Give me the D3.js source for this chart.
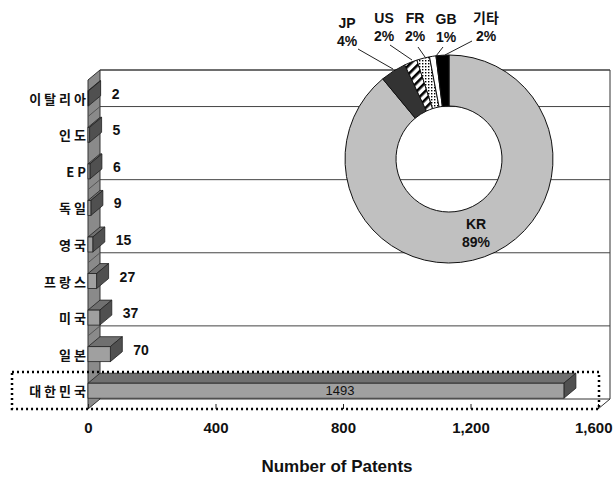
<!DOCTYPE html>
<html>
<head>
<meta charset="utf-8">
<script src="https://cdn.jsdelivr.net/npm/d3@7"></script>
<style>
  html, body { margin: 0; padding: 0; background: #fff; }
  svg { display: block; }
  .cat { font-family: "Noto Sans CJK KR", "Liberation Sans", sans-serif; font-weight: 700; font-size: 13px; letter-spacing: 3px; fill: #111; }
  .num { font-family: "Liberation Sans", Arial, sans-serif; font-weight: 700; font-size: 14px; fill: #111; }
  .tick-label { font-family: "Liberation Sans", Arial, sans-serif; font-weight: 700; font-size: 15px; fill: #111; }
  .title { font-family: "Liberation Sans", Arial, sans-serif; font-weight: 700; font-size: 17px; fill: #111; }
  .pie-label { font-family: "Liberation Sans", "Noto Sans CJK KR", sans-serif; font-weight: 700; font-size: 14px; fill: #111; }
</style>
</head>
<body>
<svg id="chart" width="613" height="478"></svg>
<script>
// Patent counts by filing office
const categories = ["이탈리아", "인도", "EP", "독일", "영국", "프랑스", "미국", "일본", "대한민국"];
const patentCounts = [2, 5, 6, 9, 15, 27, 37, 70, 1493];
const xTicks = [0, 400, 800, 1200, 1600];
// categories whose upper boundary carries a back-wall gridline
const gridCategories = ["이탈리아", "인도", "독일", "프랑스", "일본"];

// Share of applications by country (donut)
const shareLabels = ["KR", "JP", "US", "FR", "GB", "기타"];
const sharePercents = [89, 4, 2, 2, 1, 2];

const svg = d3.select("#chart");

// pseudo-3D depth offset of the plot box
const DX = 12, DY = -10;

const x = d3.scaleLinear().domain([0, 1600]).range([88, 598]);
const y = d3.scaleBand().domain(categories).range([80, 409]).padding(0);
const barH = y.bandwidth() * 0.41;

// patterns for donut slices
const defs = svg.append("defs");
const stripes = defs.append("pattern")
  .attr("id", "stripes").attr("patternUnits", "userSpaceOnUse")
  .attr("width", 6).attr("height", 6)
  .attr("patternTransform", "rotate(45)");
stripes.append("rect").attr("width", 6).attr("height", 6).attr("fill", "#fff");
stripes.append("rect").attr("width", 2.6).attr("height", 6).attr("fill", "#000");

const dots = defs.append("pattern")
  .attr("id", "dots").attr("patternUnits", "userSpaceOnUse")
  .attr("width", 3).attr("height", 3);
dots.append("rect").attr("width", 3).attr("height", 3).attr("fill", "#fff");
dots.append("rect").attr("width", 1.4).attr("height", 1.4).attr("fill", "#000");

const x0 = x(0), x1 = x(1600), yTop = y.range()[0], yBot = y.range()[1];

// back wall
svg.append("path")
  .attr("d", `M${x0 + DX},${yTop + DY}H${x1 + DX}V${yBot + DY}`)
  .attr("fill", "none").attr("stroke", "#333").attr("stroke-width", 1);

// floor edges
svg.append("line")
  .attr("x1", x1 + DX).attr("y1", yBot + DY).attr("x2", x1).attr("y2", yBot)
  .attr("stroke", "#333");
svg.append("line")
  .attr("x1", x0 + DX).attr("y1", yBot + DY).attr("x2", x1 + DX).attr("y2", yBot + DY)
  .attr("stroke", "#333").attr("stroke-width", 1);

// gridlines on the back wall
svg.append("g").selectAll("line").data(gridCategories).join("line")
  .attr("x1", x0 + DX).attr("x2", x1 + DX)
  .attr("y1", d => y(d) + DY).attr("y2", d => y(d) + DY)
  .attr("stroke", "#444").attr("stroke-width", 1);

// left side wall
svg.append("path")
  .attr("d", `M${x0},${yTop}L${x0 + DX},${yTop + DY}V${yBot + DY}L${x0},${yBot}Z`)
  .attr("fill", "#8a8a8a").attr("stroke", "#333").attr("stroke-width", 1);
svg.append("g").selectAll("line").data(gridCategories.slice(1)).join("line")
  .attr("x1", x0 + DX).attr("y1", d => y(d) + DY)
  .attr("x2", x0).attr("y2", d => y(d))
  .attr("stroke", "#555").attr("stroke-width", 1);

// donut of country shares (behind the bars, over the wall)
const pie = d3.pie().sort(null).value(d => d)(sharePercents);
const cx = 449, cy = 159, rOut = 104, rIn = 53;
const arc = d3.arc().innerRadius(rIn).outerRadius(rOut);
const sliceFill = ["#c0c0c0", "#333333", "url(#stripes)", "url(#dots)", "#ffffff", "#000000"];
const donut = svg.append("g").attr("transform", `translate(${cx},${cy})`);
donut.selectAll("path").data(pie).join("path")
  .attr("d", arc)
  .attr("fill", (d, i) => sliceFill[i])
  .attr("stroke", "#111").attr("stroke-width", 1);

// bars
const bars = svg.append("g");
categories.forEach((c, i) => {
  const v = patentCounts[i];
  const yc = y(c) + y.bandwidth() / 2;
  const t = yc - barH / 2, b = yc + barH / 2;
  const xs = x(0), xe = x(v);
  const g = bars.append("g");
  // top face
  g.append("path")
    .attr("d", `M${xs},${t}L${xs + DX},${t + DY}L${xe + DX},${t + DY}L${xe},${t}Z`)
    .attr("fill", "#707070").attr("stroke", "#222").attr("stroke-width", 0.8);
  // end face
  g.append("path")
    .attr("d", `M${xe},${t}L${xe + DX},${t + DY}L${xe + DX},${b + DY}L${xe},${b}Z`)
    .attr("fill", "#505050").attr("stroke", "#222").attr("stroke-width", 0.8);
  // front face
  g.append("rect")
    .attr("x", xs).attr("y", t).attr("width", Math.max(0, xe - xs)).attr("height", barH)
    .attr("fill", "#a0a0a0").attr("stroke", "#222").attr("stroke-width", 0.8);
});

// value labels
const labelG = svg.append("g");
categories.forEach((c, i) => {
  const v = patentCounts[i];
  const ym = y(c) + y.bandwidth() / 2 + DY / 2 + 0.5;
  if (v > 1000) {
    labelG.append("text").attr("class", "num")
      .attr("x", (x(0) + x(v)) / 2 + 14).attr("y", y(c) + y.bandwidth() / 2)
      .attr("dominant-baseline", "central").attr("text-anchor", "middle")
      .style("font-weight", 400).style("font-size", "13px")
      .text(v);
  } else {
    labelG.append("text").attr("class", "num")
      .attr("x", x(v) + DX + 11).attr("y", ym)
      .attr("dominant-baseline", "central")
      .text(v);
  }
});

// category labels
svg.append("g").selectAll("text").data(categories).join("text")
  .attr("class", "cat")
  .attr("x", 89).attr("y", d => y(d) + y.bandwidth() / 2)
  .attr("text-anchor", "end").attr("dominant-baseline", "central")
  .text(d => d);

// x axis: inward ticks on the front floor edge
const axis = d3.axisBottom(x).tickValues(xTicks).tickFormat(d3.format(",")).tickSize(-5).tickPadding(13);
const ax = svg.append("g").attr("transform", `translate(0,${yBot})`).call(axis);
ax.select(".domain").remove();
ax.selectAll(".tick line").attr("stroke", "#222");
ax.selectAll(".tick text").attr("class", "tick-label").attr("fill", null);
// last label is flush with the right edge
ax.selectAll(".tick text").filter(d => d === 1600)
  .attr("text-anchor", "end").attr("x", 14);
ax.attr("font-family", null).attr("font-size", null);

// dotted frame around the leading category
svg.append("rect")
  .attr("x", 12).attr("y", y("대한민국") - 0.5)
  .attr("width", x1 + 1 - 12).attr("height", yBot - y("대한민국") + 0.5)
  .attr("fill", "none").attr("stroke", "#000").attr("stroke-width", 2.5)
  .attr("stroke-dasharray", "2,3");

// axis title
svg.append("text").attr("class", "title")
  .attr("x", 337).attr("y", 472).attr("text-anchor", "middle")
  .text("Number of Patents");

// donut labels with leader lines
const pieLabelPos = [
  { lx: 476, ly: 224, line: null },
  { lx: 347, ly: 23, line: [358, 49, 393, 69] },
  { lx: 384, ly: 18, line: [390, 45, 412, 60] },
  { lx: 415, ly: 18, line: [418, 47, 425, 57] },
  { lx: 446, ly: 19, line: [443, 47, 436, 56] },
  { lx: 486, ly: 18, line: [472, 41, 445, 55] }
];
const pl = svg.append("g");
shareLabels.forEach((lab, i) => {
  const p = pieLabelPos[i];
  if (p.line) {
    pl.append("line")
      .attr("x1", p.line[0]).attr("y1", p.line[1]).attr("x2", p.line[2]).attr("y2", p.line[3])
      .attr("stroke", "#222").attr("stroke-width", 1);
  }
  const t = pl.append("text").attr("class", "pie-label").attr("text-anchor", "middle");
  t.append("tspan").attr("x", p.lx).attr("y", p.ly).attr("dominant-baseline", "central").text(lab);
  t.append("tspan").attr("x", p.lx).attr("y", p.ly + 18).attr("dominant-baseline", "central").text(sharePercents[i] + "%");
});
</script>
</body>
</html>
